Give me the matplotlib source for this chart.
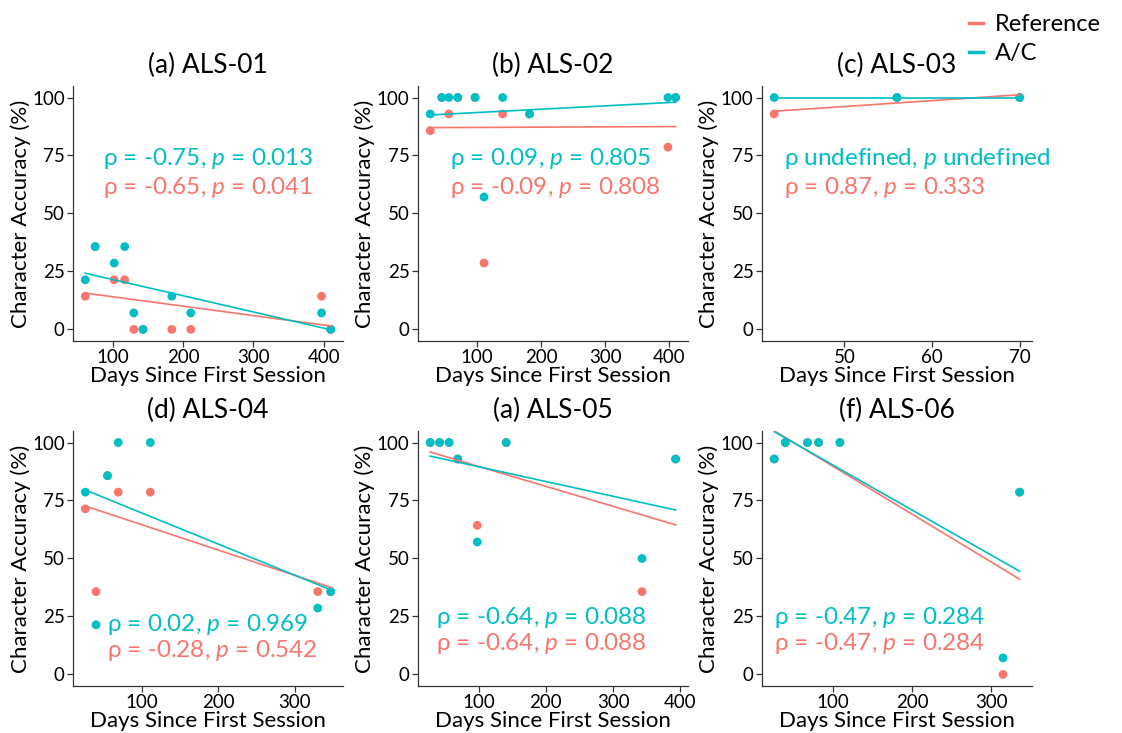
import numpy as np
import matplotlib.pyplot as plt
from matplotlib.lines import Line2D

plt.rcParams['font.family'] = ['Lato', 'DejaVu Sans']
plt.rcParams['mathtext.fontset'] = 'custom'
plt.rcParams['mathtext.rm'] = 'Lato'
plt.rcParams['mathtext.it'] = 'Lato:italic'

REF_COLOR = '#F8766D'
AC_COLOR = '#00BFC4'

titles = ['(a) ALS-01', '(b) ALS-02', '(c) ALS-03',
          '(d) ALS-04', '(a) ALS-05', '(f) ALS-06']

# days since first session, and character accuracy (%) per participant
days_01 = [61, 75, 102, 117, 130, 143, 184, 211, 397, 410]
ref_01 = [14.3, 35.7, 21.4, 21.4, 0, 0, 0, 0, 14.3, 0]
ac_01 = [21.4, 35.7, 28.6, 35.7, 7.1, 0, 14.3, 7.1, 7.1, 0]

days_02 = [27, 45, 56, 70, 97, 111, 140, 182, 398, 410]
ref_02 = [85.7, 100, 92.9, 100, 100, 28.6, 92.9, 92.9, 78.6, 100]
ac_02 = [92.9, 100, 100, 100, 100, 57.1, 100, 92.9, 100, 100]

days_03 = [42, 56, 70]
ref_03 = [92.9, 100, 100]
ac_03 = [100, 100, 100]

days_04 = [26, 40, 55, 69, 111, 330, 347]
ref_04 = [71.4, 35.7, 85.7, 78.6, 78.6, 35.7, 35.7]
ac_04 = [78.6, 21.4, 85.7, 100, 100, 28.6, 35.7]

days_05 = [28, 42, 56, 69, 98, 141, 343, 393]
ref_05 = [100, 100, 100, 92.9, 64.3, 100, 35.7, 92.9]
ac_05 = [100, 100, 100, 92.9, 57.1, 100, 50, 92.9]

days_06 = [26, 40, 68, 82, 109, 315, 336]
ref_06 = [92.9, 100, 100, 100, 100, 0, 78.6]
ac_06 = [92.9, 100, 100, 100, 100, 7.1, 78.6]

ac_rho = ['-0.75', '0.09', None, '0.02', '-0.64', '-0.47']
ac_p = ['0.013', '0.805', None, '0.969', '0.088', '0.284']
ref_rho = ['-0.65', '-0.09', '0.87', '-0.28', '-0.64', '-0.47']
ref_p = ['0.041', '0.808', '0.333', '0.542', '0.088', '0.284']

x_ticks = [[100, 200, 300, 400], [100, 200, 300, 400], [50, 60, 70],
           [100, 200, 300], [100, 200, 300, 400], [100, 200, 300]]

all_days = [days_01, days_02, days_03, days_04, days_05, days_06]
all_ref = [ref_01, ref_02, ref_03, ref_04, ref_05, ref_06]
all_ac = [ac_01, ac_02, ac_03, ac_04, ac_05, ac_06]

# layout (figure fractions) and label positions (axes fractions)
lefts = [0.0651, 0.3725, 0.6791]
bottoms = [0.5348, 0.0641]
w, h = 0.2406, 0.348
text_x = [0.111, 0.119, 0.081, 0.126, 0.068, 0.044]
text_y = [(0.714, 0.60), (0.714, 0.60), (0.714, 0.60),
          (0.242, 0.14), (0.27, 0.168), (0.27, 0.168)]

fig = plt.figure(figsize=(11.22, 7.33), dpi=100)

for i in range(6):
    ax = fig.add_axes([lefts[i % 3], bottoms[i // 3], w, h])
    d = np.array(all_days[i], dtype=float)
    for vals, col in [(all_ref[i], REF_COLOR), (all_ac[i], AC_COLOR)]:
        v = np.array(vals, dtype=float)
        ax.scatter(d, v, s=40, color=col, edgecolor='none', zorder=3)
        k, b = np.polyfit(d, v, 1)
        xs = np.array([d.min(), d.max()])
        ax.plot(xs, k * xs + b, color=col, lw=1.2, zorder=4)

    pad = (d.max() - d.min()) * 0.05
    ax.set_xlim(d.min() - pad, d.max() + pad)
    ax.set_ylim(-5, 105)
    ax.set_xticks(x_ticks[i])
    ax.set_yticks([0, 25, 50, 75, 100])
    for s in ['top', 'right']:
        ax.spines[s].set_visible(False)
    for s in ['left', 'bottom']:
        ax.spines[s].set_color('#333333')
        ax.spines[s].set_linewidth(0.9)
    ax.tick_params(direction='out', length=4, width=0.9, color='#333333',
                   labelsize=13.5, labelcolor='black', pad=2)
    ax.set_title(titles[i], fontsize=19, pad=9)
    ax.set_xlabel('Days Since First Session', fontsize=16, labelpad=0)
    ax.set_ylabel('Character Accuracy (%)', fontsize=16, labelpad=1)

    if ac_rho[i] is None:
        ac_label = 'ρ undefined, $p$ undefined'
    else:
        ac_label = 'ρ = %s, $p$ = %s' % (ac_rho[i], ac_p[i])
    ref_label = 'ρ = %s, $p$ = %s' % (ref_rho[i], ref_p[i])
    ax.text(text_x[i], text_y[i][0], ac_label, transform=ax.transAxes,
            color=AC_COLOR, fontsize=17.5, va='center', ha='left')
    ax.text(text_x[i], text_y[i][1], ref_label, transform=ax.transAxes,
            color=REF_COLOR, fontsize=17.5, va='center', ha='left')

handles = [Line2D([], [], color=REF_COLOR, lw=2.5),
           Line2D([], [], color=AC_COLOR, lw=2.5)]
fig.legend(handles, ['Reference', 'A/C'], loc='upper right',
           bbox_to_anchor=(1.0, 1.01), frameon=False, fontsize=17,
           handlelength=0.6, handletextpad=0.5, labelspacing=0.35)

fig.savefig('out.png', dpi=100)
